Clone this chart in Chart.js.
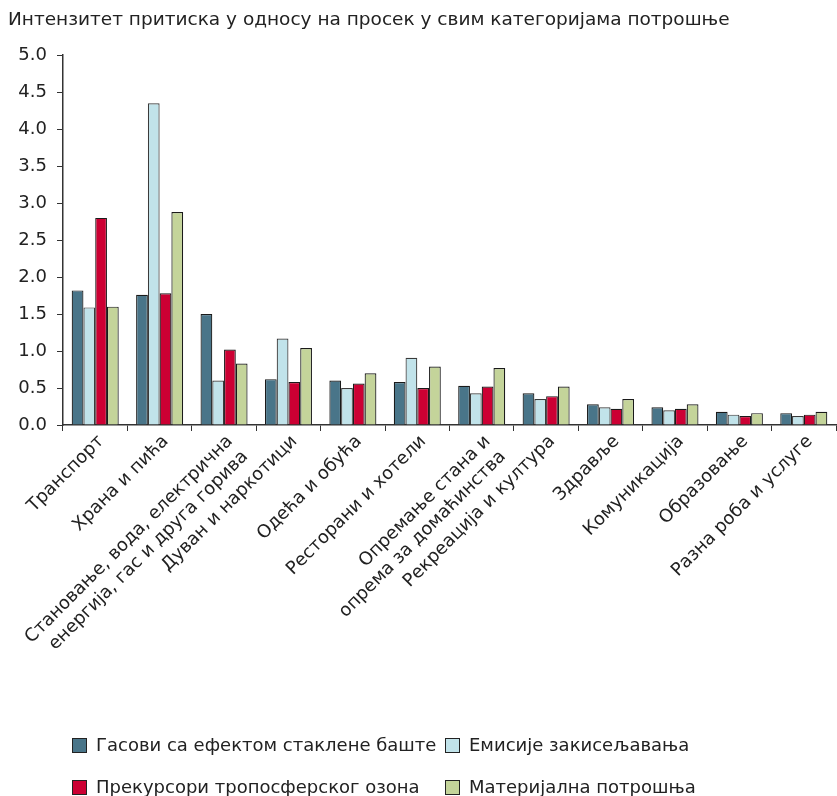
<!DOCTYPE html>
<html>
<head>
<meta charset="utf-8">
<script src="https://cdn.jsdelivr.net/npm/chart.js@4.4.0/dist/chart.umd.min.js"></script>
<style>
  html, body { margin: 0; padding: 0; background: #fff; }
  #wrap { position: relative; width: 837px; height: 796px; }
  #legend {
    position: absolute; left: 72px; top: 734px;
    display: grid; grid-template-columns: 373px auto; row-gap: 20px;
    font-family: 'DejaVu Sans', Verdana, sans-serif; font-size: 18px; color: #222;
    line-height: 22px;
  }
  #legend .item { display: flex; align-items: center; white-space: nowrap; }
  #legend .box { width: 15px; height: 15px; box-sizing: border-box; border: 1px solid #222; margin-right: 9px; }
</style>
</head>
<body>
<div id="wrap">
  <canvas id="pressureChart" width="837" height="796"></canvas>
  <div id="legend"></div>
</div>
<script>
// категорије потрошње (вишередни натписи као низови)
const categories = [
  'Транспорт',
  'Храна и пића',
  ['Становање, вода, електрична', 'енергија, гас и друга горива'],
  'Дуван и наркотици',
  'Одећа и обућа',
  'Ресторани и хотели',
  ['Опремање стана и', 'опрема за домаћинства'],
  'Рекреација и култура',
  'Здравље',
  'Комуникација',
  'Образовање',
  'Разна роба и услуге'
];

const seriesNames = [
  'Гасови са ефектом стаклене баште',
  'Емисије закисељавања',
  'Прекурсори тропосферског озона',
  'Материјална потрошња'
];

const greenhouseGases = [1.82, 1.76, 1.50, 0.62, 0.60, 0.58, 0.53, 0.43, 0.28, 0.24, 0.18, 0.16];
const acidification   = [1.59, 4.35, 0.60, 1.17, 0.50, 0.91, 0.43, 0.35, 0.24, 0.20, 0.14, 0.12];
const ozonePrecursors = [2.80, 1.78, 1.02, 0.58, 0.56, 0.50, 0.52, 0.39, 0.22, 0.22, 0.12, 0.14];
const materialUse     = [1.60, 2.88, 0.83, 1.04, 0.70, 0.79, 0.77, 0.52, 0.35, 0.28, 0.16, 0.18];

const yTicks = [0, 0.5, 1, 1.5, 2, 2.5, 3, 3.5, 4, 4.5, 5];

const fillColors   = ['#497589', '#c1e3ea', '#cc0033', '#c4d49a'];
const borderColors = ['#1a1a1a', '#3a3a3a', '#1a1a1a', '#1a1a1a'];

const FONT = "'DejaVu Sans', Verdana, sans-serif";
const axisColor = '#333333';

const seriesValues = [greenhouseGases, acidification, ozonePrecursors, materialUse];

const datasets = seriesValues.map((values, i) => ({
  label: seriesNames[i],
  data: values,
  backgroundColor: fillColors[i],
  borderColor: borderColors[i],
  borderWidth: 1.2,
  borderSkipped: 'bottom',
  categoryPercentage: 0.73,
  barPercentage: 1.0
}));

const ctx = document.getElementById('pressureChart').getContext('2d');

const chart = new Chart(ctx, {
  type: 'bar',
  data: { labels: categories, datasets: datasets },
  options: {
    responsive: false,
    animation: false,
    devicePixelRatio: 1,
    layout: { padding: { left: 8, right: 1, top: 0, bottom: 84 } },
    plugins: {
      title: {
        display: true,
        text: 'Интензитет притиска у односу на просек у свим категоријама потрошње',
        align: 'start',
        color: '#222',
        font: { family: FONT, size: 18.5, weight: 'normal' },
        padding: { top: 9, bottom: 24 }
      },
      legend: { display: false },
      tooltip: { enabled: false }
    },
    scales: {
      x: {
        grid: {
          offset: true,
          drawOnChartArea: false,
          drawTicks: true,
          tickLength: 6,
          color: axisColor
        },
        border: { display: true, color: axisColor, width: 1.5 },
        ticks: {
          color: '#222',
          font: { family: FONT, size: 18 },
          maxRotation: 45,
          minRotation: 45,
          autoSkip: false,
          labelOffset: 6,
          padding: 0
        },
        afterFit: (scale) => { scale.height = 287; }
      },
      y: {
        min: 0,
        max: 5,
        afterBuildTicks: (scale) => { scale.ticks = yTicks.map(v => ({ value: v })); },
        grid: {
          drawOnChartArea: false,
          drawTicks: true,
          tickLength: 6,
          color: axisColor
        },
        border: { display: true, color: axisColor, width: 1.5 },
        ticks: {
          color: '#222',
          font: { family: FONT, size: 18 },
          padding: 10,
          callback: (v) => Number(v).toFixed(1)
        },
        afterFit: (scale) => { scale.width = 55; }
      }
    }
  }
});

// легенда у две колоне, из података графикона
const legendEl = document.getElementById('legend');
chart.data.datasets.forEach((ds) => {
  const item = document.createElement('div');
  item.className = 'item';
  const box = document.createElement('span');
  box.className = 'box';
  box.style.background = ds.backgroundColor;
  const text = document.createElement('span');
  text.textContent = ds.label;
  item.appendChild(box);
  item.appendChild(text);
  legendEl.appendChild(item);
});
</script>
</body>
</html>
